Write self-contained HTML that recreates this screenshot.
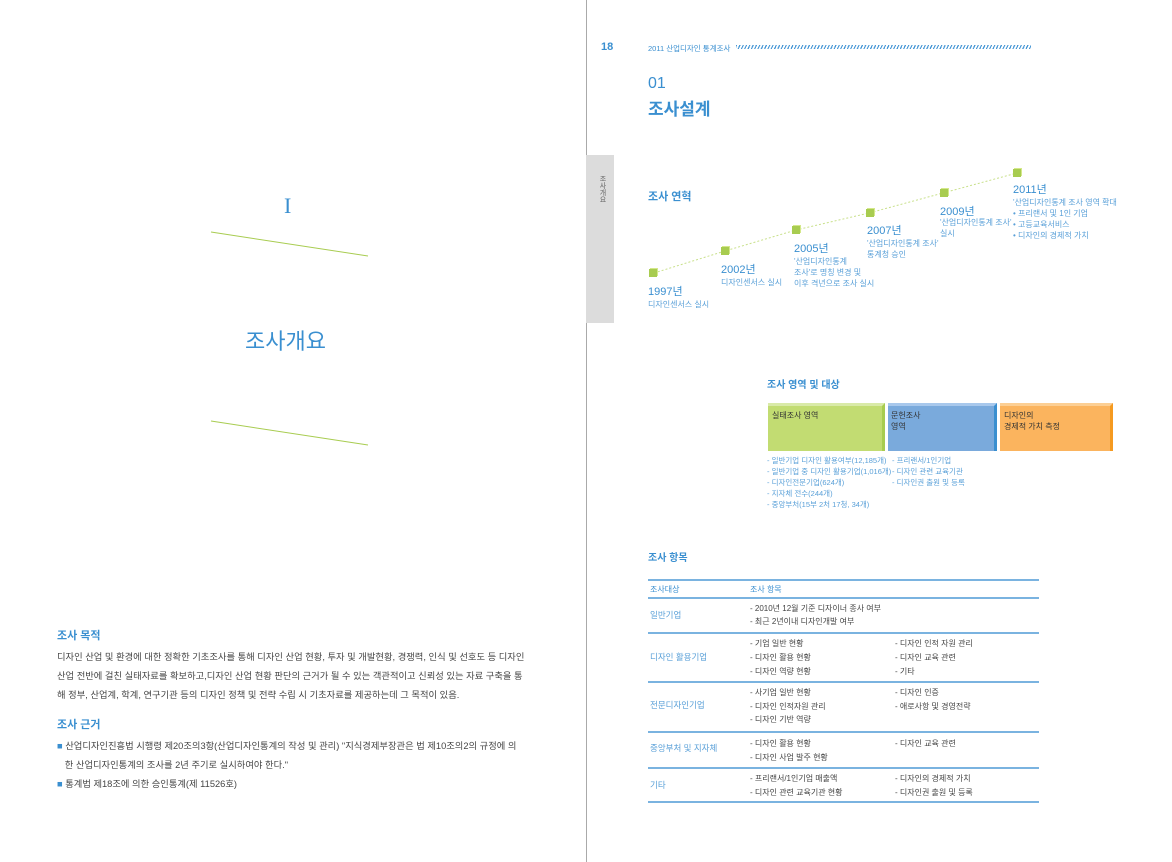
<!DOCTYPE html>
<html><head><meta charset="utf-8"><style>
*{margin:0;padding:0;box-sizing:border-box}
body{width:1172px;height:862px;background:#fff;position:relative;overflow:hidden;font-family:"Liberation Sans","Noto Sans CJK KR",sans-serif;color:#444}
.a{position:absolute;white-space:nowrap}
.b{color:#3a8fd0}
.s{font-size:8px;color:#5aa0d8;line-height:11px}
.yr{font-size:11px;color:#3a8fd0}
.cube{position:absolute;width:8px;height:8px;background:#a8cc50;box-shadow:1px -1px 0 #d4e88a}
</style></head><body>
<div class="a" style="left:586px;top:0;width:1px;height:862px;background:#aaa"></div>
<!-- left page -->
<div class="a" style="left:284px;top:193px;font-size:22px;color:#3a8fd0;font-family:'Liberation Serif',serif">I</div>
<svg class="a" style="left:0;top:0" width="586" height="862"><line x1="211" y1="232" x2="368" y2="256" stroke="#a8cc50" stroke-width="1"/><line x1="211" y1="421" x2="368" y2="445" stroke="#a8cc50" stroke-width="1"/></svg>
<div class="a b" style="left:245px;top:324px;font-size:22px">조사개요</div>
<div class="a b" style="left:57px;top:627px;font-size:11px;font-weight:bold">조사 목적</div>
<div class="a" style="left:57px;top:648px;font-size:9.3px;line-height:19px;color:#444">디자인 산업 및 환경에 대한 정확한 기초조사를 통해 디자인 산업 현황, 투자 및 개발현황, 경쟁력, 인식 및 선호도 등 디자인<br>산업 전반에 걸친 실태자료를 확보하고,디자인 산업 현황 판단의 근거가 될 수 있는 객관적이고 신뢰성 있는 자료 구축을 통<br>해 정부, 산업계, 학계, 연구기관 등의 디자인 정책 및 전략 수립 시 기초자료를 제공하는데 그 목적이 있음.</div>
<div class="a b" style="left:57px;top:716px;font-size:11px;font-weight:bold">조사 근거</div>
<div class="a" style="left:57px;top:737px;font-size:9.3px;line-height:19px;color:#444"><span style="color:#3a8fd0">■</span> 산업디자인진흥법 시행령 제20조의3항(산업디자인통계의 작성 및 관리) "지식경제부장관은 법 제10조의2의 규정에 의<br>&nbsp;&nbsp;&nbsp;한 산업디자인통계의 조사를 2년 주기로 실시하여야 한다."<br><span style="color:#3a8fd0">■</span> 통계법 제18조에 의한 승인통계(제 11526호)</div>
<!-- right page header -->
<div class="a b" style="left:601px;top:41px;font-size:11px;font-weight:bold">18</div>
<div class="a b" style="left:648px;top:43px;font-size:7.5px">2011 산업디자인 통계조사</div>
<div class="a" style="left:736px;top:45px;width:295px;height:4px;background:repeating-linear-gradient(115deg,#4a98d6 0 1.2px,#fff 1.2px 3px)"></div>
<div class="a b" style="left:648px;top:75px;font-size:16px;font-weight:300">01</div>
<div class="a b" style="left:648px;top:95px;font-size:17px;font-weight:bold">조사설계</div>
<div class="a" style="left:586px;top:155px;width:28px;height:168px;background:#dcdcdc"></div>
<div class="a" style="left:597px;top:175px;font-size:7px;color:#666;writing-mode:vertical-rl">조사개요</div>
<div class="a b" style="left:648px;top:188px;font-size:11px;font-weight:bold">조사 연혁</div>
<svg class="a" style="left:0;top:0" width="1172" height="400"><polyline points="654,273 725,251 796,230 869,213 943,193 1017,173" fill="none" stroke="#c8e08a" stroke-width="1" stroke-dasharray="2,2"/></svg>
<div class="cube" style="left:649px;top:269px"></div>
<div class="cube" style="left:721px;top:247px"></div>
<div class="cube" style="left:792px;top:226px"></div>
<div class="cube" style="left:866px;top:209px"></div>
<div class="cube" style="left:940px;top:189px"></div>
<div class="cube" style="left:1013px;top:169px"></div>
<div class="a yr" style="left:648px;top:283px">1997년</div><div class="a s" style="left:648px;top:299px">디자인센서스 실시</div>
<div class="a yr" style="left:721px;top:261px">2002년</div><div class="a s" style="left:721px;top:277px">디자인센서스 실시</div>
<div class="a yr" style="left:794px;top:240px">2005년</div><div class="a s" style="left:794px;top:256px">'산업디자인통계<br>조사'로 명칭 변경 및<br>이후 격년으로 조사 실시</div>
<div class="a yr" style="left:867px;top:222px">2007년</div><div class="a s" style="left:867px;top:238px">'산업디자인통계 조사'<br>통계청 승인</div>
<div class="a yr" style="left:940px;top:203px">2009년</div><div class="a s" style="left:940px;top:217px">'산업디자인통계 조사'<br>실시</div>
<div class="a yr" style="left:1013px;top:181px">2011년</div><div class="a s" style="left:1013px;top:197px">'산업디자인통계 조사 영역 확대<br>• 프리랜서 및 1인 기업<br>• 고등교육서비스<br>• 디자인의 경제적 가치</div>
<!-- 영역 -->
<div class="a b" style="left:767px;top:376px;font-size:10px;font-weight:bold">조사 영역 및 대상</div>
<div class="a" style="left:768px;top:403px;width:117px;height:48px;background:#c2dc72;border-right:3px solid #a8cc50;border-top:3px solid #d9eaa8;font-size:8px;padding:4px 4px;color:#333">실태조사 영역</div>
<div class="a" style="left:888px;top:403px;width:109px;height:48px;background:#7aaadc;border-right:3px solid #3a8fd0;border-top:3px solid #a8c8ec;font-size:8px;padding:4px 3px;color:#333;line-height:11px">문헌조사<br>영역</div>
<div class="a" style="left:1000px;top:403px;width:113px;height:48px;background:#fbb45e;border-right:3px solid #f59a20;border-top:3px solid #fccf94;font-size:8px;padding:4px 4px;color:#333;line-height:11px">디자인의<br>경제적 가치 측정</div>
<div class="a s" style="left:767px;top:455px;font-size:7.5px">- 일반기업 디자인 활용여부(12,185개)<br>- 일반기업 중 디자인 활용기업(1,016개)<br>- 디자인전문기업(624개)<br>- 지자체 전수(244개)<br>- 중앙부처(15부 2처 17청, 34개)</div>
<div class="a s" style="left:892px;top:455px;font-size:7.5px">- 프리랜서/1인기업<br>- 디자인 관련 교육기관<br>- 디자인권 출원 및 등록</div>
<!-- 항목 -->
<div class="a b" style="left:648px;top:549px;font-size:10px;font-weight:bold">조사 항목</div>
<div class="a" style="left:648px;top:579px;width:391px;height:2px;background:#7ab3e0"></div>
<div class="a b" style="left:650px;top:584px;font-size:8px">조사대상</div><div class="a b" style="left:750px;top:584px;font-size:8px">조사 항목</div>
<div class="a" style="left:648px;top:597px;width:391px;height:2px;background:#7ab3e0"></div>
<div class="a s" style="left:650px;top:610px;font-size:8.5px">일반기업</div>
<div class="a" style="left:750px;top:602px;font-size:8px;line-height:13px;color:#444">- 2010년 12월 기준 디자이너 종사 여부<br>- 최근 2년이내 디자인개발 여부</div>
<div class="a" style="left:648px;top:632px;width:391px;height:2px;background:#7ab3e0"></div>
<div class="a s" style="left:650px;top:652px;font-size:8.5px">디자인 활용기업</div>
<div class="a" style="left:750px;top:637px;font-size:8px;line-height:14px;color:#444">- 기업 일반 현황<br>- 디자인 활용 현황<br>- 디자인 역량 현황</div>
<div class="a" style="left:895px;top:637px;font-size:8px;line-height:14px;color:#444">- 디자인 인적 자원 관리<br>- 디자인 교육 관련<br>- 기타</div>
<div class="a" style="left:648px;top:681px;width:391px;height:2px;background:#7ab3e0"></div>
<div class="a s" style="left:650px;top:700px;font-size:8.5px">전문디자인기업</div>
<div class="a" style="left:750px;top:686px;font-size:8px;line-height:13.5px;color:#444">- 사기업 일반 현황<br>- 디자인 인적자원 관리<br>- 디자인 기반 역량</div>
<div class="a" style="left:895px;top:686px;font-size:8px;line-height:13.5px;color:#444">- 디자인 인증<br>- 애로사항 및 경영전략</div>
<div class="a" style="left:648px;top:731px;width:391px;height:2px;background:#7ab3e0"></div>
<div class="a s" style="left:650px;top:743px;font-size:8.5px">중앙부처 및 지자체</div>
<div class="a" style="left:750px;top:737px;font-size:8px;line-height:13.5px;color:#444">- 디자인 활용 현황<br>- 디자인 사업 발주 현황</div>
<div class="a" style="left:895px;top:737px;font-size:8px;line-height:13.5px;color:#444">- 디자인 교육 관련</div>
<div class="a" style="left:648px;top:767px;width:391px;height:2px;background:#7ab3e0"></div>
<div class="a s" style="left:650px;top:780px;font-size:8.5px">기타</div>
<div class="a" style="left:750px;top:772px;font-size:8px;line-height:13.5px;color:#444">- 프리랜서/1인기업 매출액<br>- 디자인 관련 교육기관 현황</div>
<div class="a" style="left:895px;top:772px;font-size:8px;line-height:13.5px;color:#444">- 디자인의 경제적 가치<br>- 디자인권 출원 및 등록</div>
<div class="a" style="left:648px;top:801px;width:391px;height:2px;background:#7ab3e0"></div>
</body></html>
